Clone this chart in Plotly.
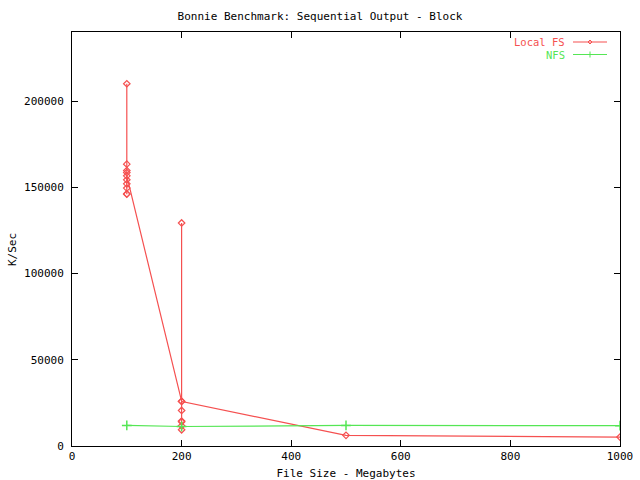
import plotly.graph_objects as go

# Local FS measurements (in run order)
local_x = [100]*10 + [200]*8 + [500, 1000]
local_y = [210000, 163400, 159700, 158500, 154300, 152000, 149500, 146200, 146000, 156600,
           26000, 129300, 20600, 14500, 14000, 11700, 9400, 25800,
           6200, 5200]

nfs_x = [100, 200, 500, 1000]
nfs_y = [11900, 11300, 11900, 11800]

red = "#f55050"
green = "#55e655"
font = dict(family="DejaVu Sans Mono", size=11, color="black")

fig = go.Figure()
fig.add_trace(go.Scatter(x=local_x, y=local_y, mode="lines+markers", name="Local FS",
                         line=dict(color=red, width=1.2),
                         marker=dict(symbol="diamond-open", size=5, color=red, line=dict(width=1.2))))
fig.add_trace(go.Scatter(x=nfs_x, y=nfs_y, mode="lines+markers", name="NFS",
                         line=dict(color=green, width=1.2),
                         marker=dict(symbol="cross-thin-open", size=7, color=green, line=dict(width=1.5, color=green))))

axis_common = dict(showgrid=False, zeroline=False, showline=True, linecolor="black", linewidth=1,
                   mirror="allticks", ticks="inside", ticklen=6, tickcolor="black",
                   tickfont=font, automargin=False)
fig.update_xaxes(range=[0, 1000], tickvals=[0, 200, 400, 600, 800, 1000],
                 title=dict(text="File Size - Megabytes", font=font, standoff=8), **axis_common)
fig.update_yaxes(range=[0, 240000], tickvals=[0, 50000, 100000, 150000, 200000],
                 tickformat="d", ticklabelstandoff=5, **axis_common)

# custom gnuplot-style legend (text left, sample right)
legend_items = [("Local FS", red, 42.0), ("NFS", green, 54.5)]
W, H = 640, 480
ml, mr, mt, mb = 72, 20, 32, 34
pw, ph = W - ml - mr, H - mt - mb
def px(x): return (x - ml) / pw
def py(y): return 1 - (y - mt) / ph
shapes = []
annotations = [dict(text="K/Sec", x=px(12), y=py(250), xref="paper", yref="paper",
                    xanchor="center", yanchor="middle", textangle=-90, showarrow=False,
                    font=font)]
for name, col, yy in legend_items:
    annotations.append(dict(text=name, x=px(566), y=py(yy), xref="paper", yref="paper",
                            xanchor="right", yanchor="middle", showarrow=False, borderpad=0,
                            font=dict(family="DejaVu Sans Mono", size=10.5, color=col)))
    shapes.append(dict(type="line", x0=px(573), x1=px(607), y0=py(yy), y1=py(yy),
                       xref="paper", yref="paper", line=dict(color=col, width=1.2)))
# markers on legend samples
shapes.append(dict(type="path", xref="paper", yref="paper",
                   path=f"M {px(588)} {py(42.0)} L {px(590)} {py(40.0)} L {px(592)} {py(42.0)} L {px(590)} {py(44.0)} Z",
                   line=dict(color=red, width=1)))
shapes.append(dict(type="line", xref="paper", yref="paper", x0=px(590), x1=px(590),
                   y0=py(51.5), y1=py(57.5), line=dict(color=green, width=1)))

fig.update_layout(
    width=W, height=H,
    margin=dict(l=ml, r=mr, t=mt, b=mb),
    paper_bgcolor="white", plot_bgcolor="white",
    showlegend=False,
    title=dict(text="Bonnie Benchmark: Sequential Output - Block", x=0.5, xanchor="center",
               y=1 - 16/480, yanchor="middle", yref="container", font=font, automargin=False),
    font=font,
    shapes=shapes, annotations=annotations,
)
fig.write_html("out.html", config={"displayModeBar": False},
               post_script="document.body.style.margin='0';document.body.style.overflow='hidden';")
